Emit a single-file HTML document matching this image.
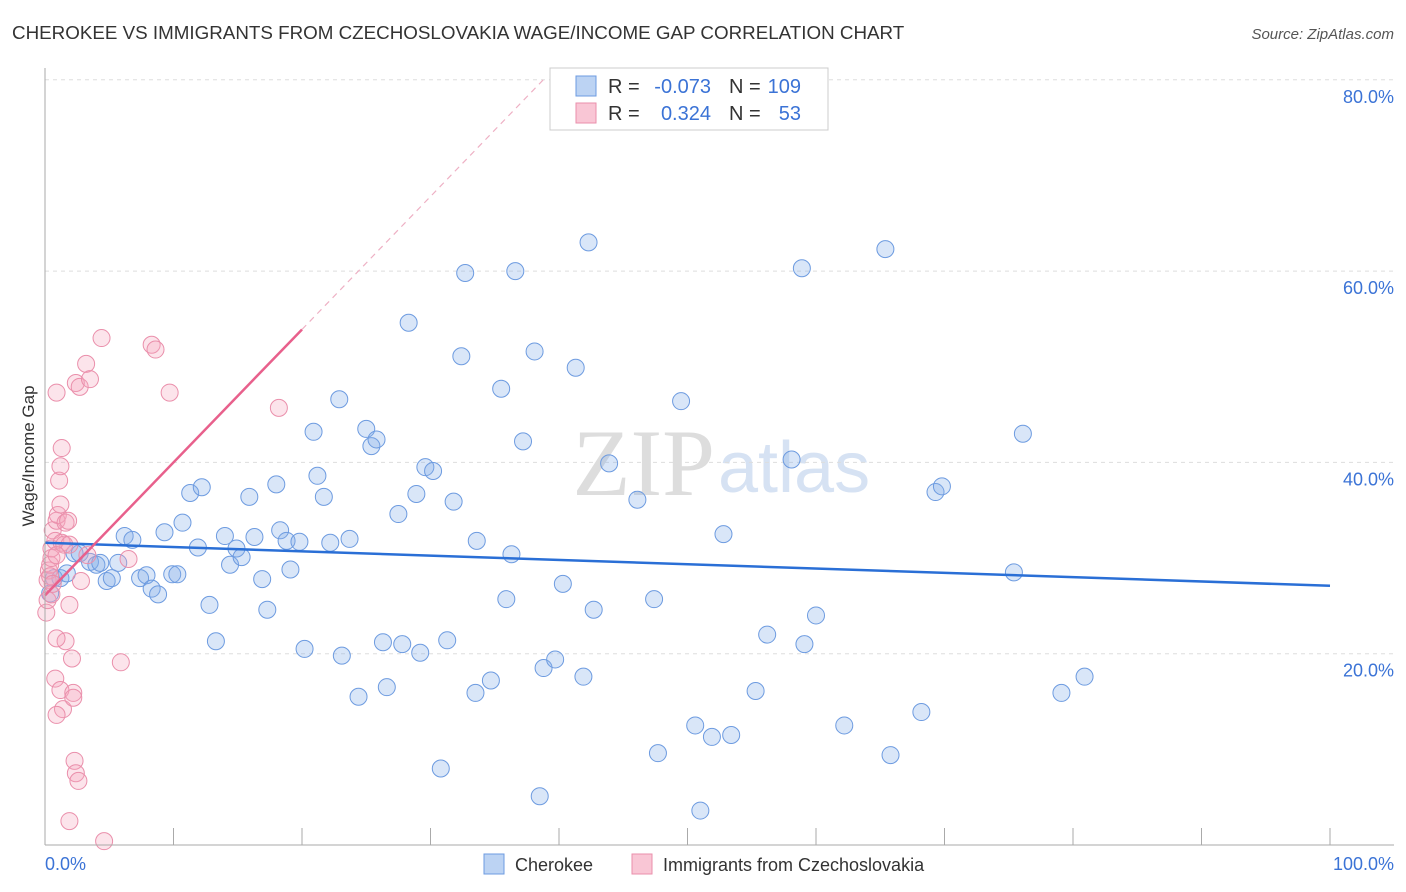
<!DOCTYPE html>
<html><head><meta charset="utf-8"><style>
body{margin:0;background:#fff;font-family:"Liberation Sans",sans-serif}
svg{display:block}
</style></head><body>
<svg id="chart" width="1406" height="892">
<text x="12" y="39" font-size="18.8" fill="#333">CHEROKEE VS IMMIGRANTS FROM CZECHOSLOVAKIA WAGE/INCOME GAP CORRELATION CHART</text>
<text x="1394" y="39" font-size="15" fill="#555" font-style="italic" text-anchor="end">Source: ZipAtlas.com</text>
<text transform="translate(34,456) rotate(-90)" font-size="17" fill="#333" text-anchor="middle">Wage/Income Gap</text>
<text x="715" y="495" font-size="95" fill="#ddd" text-anchor="end" font-family="Liberation Serif,serif">ZIP</text>
<text x="718" y="492" font-size="72" fill="#d6e2f3">atlas</text>
<g id="grid"></g><g id="pts"></g><g id="lines"></g>
<line x1="45" y1="68" x2="45" y2="845" stroke="#aaa"/>
<line x1="45" y1="845" x2="1394" y2="845" stroke="#aaa"/>
<text x="45" y="870" font-size="18" fill="#3b73d6">0.0%</text>
<text x="1394" y="870" font-size="18" fill="#3b73d6" text-anchor="end">100.0%</text>
<g font-size="20">
<rect x="550" y="68" width="278" height="62" fill="#fff" stroke="#ccc"/>
<rect x="576" y="76" width="20" height="20" fill="#bcd3f3" stroke="#6d9be0"/>
<rect x="576" y="103" width="20" height="20" fill="#f9c6d5" stroke="#ea8fab"/>
<text x="608" y="93" fill="#333">R =</text>
<text x="711" y="93" fill="#3b73d6" text-anchor="end">-0.073</text>
<text x="729" y="93" fill="#333">N =</text>
<text x="801" y="93" fill="#3b73d6" text-anchor="end">109</text>
<text x="608" y="120" fill="#333">R =</text>
<text x="711" y="120" fill="#3b73d6" text-anchor="end">0.324</text>
<text x="729" y="120" fill="#333">N =</text>
<text x="801" y="120" fill="#3b73d6" text-anchor="end">53</text>
</g>
<g>
<rect x="484" y="854" width="20" height="20" fill="#bcd3f3" stroke="#6d9be0"/>
<text x="515" y="871" font-size="18" fill="#333">Cherokee</text>
<rect x="632" y="854" width="20" height="20" fill="#f9c6d5" stroke="#ea8fab"/>
<text x="663" y="871" font-size="18" fill="#333">Immigrants from Czechoslovakia</text>
</g>
</svg>
<script>
const yTicks=[20,40,60,80];
const xTicks=[0,10,20,30,40,50,60,70,80,90,100];
const blueX=[0.7,1.2,1.7,2.3,2.7,3.5,4.0,4.3,4.8,5.2,5.7,6.2,6.8,7.4,7.9,8.3,8.8,9.3,9.9,10.3,10.7,11.3,11.9,12.2,12.8,13.3,14.0,14.4,14.9,15.3,15.9,16.3,16.9,17.3,18.0,18.3,18.8,19.1,19.8,20.2,20.9,21.2,21.7,22.2,23.1,22.9,23.7,24.4,25.0,25.4,25.8,26.3,26.6,27.5,27.8,28.3,28.9,29.2,29.6,30.2,30.8,31.3,31.8,32.4,32.7,33.5,33.6,34.7,35.5,35.9,36.3,36.6,37.2,38.1,38.5,38.8,39.7,40.3,41.3,41.9,42.3,42.7,43.9,46.1,47.4,47.7,49.5,50.6,51.0,51.9,52.8,53.4,55.3,56.2,58.1,58.9,59.1,60.0,62.2,65.4,65.8,68.2,69.3,69.8,75.4,76.1,79.1,80.9,0.4];
const blueY=[27.9,27.9,28.4,30.5,30.5,29.6,29.3,29.5,27.6,27.9,29.5,32.3,31.9,27.9,28.2,26.8,26.2,32.7,28.3,28.3,33.7,36.8,31.1,37.4,25.1,21.3,32.3,29.3,31.0,30.1,36.4,32.2,27.8,24.6,37.7,32.9,31.8,28.8,31.7,20.5,43.2,38.6,36.4,31.6,19.8,46.6,32.0,15.5,43.5,41.7,42.4,21.2,16.5,34.6,21.0,54.6,36.7,20.1,39.5,39.1,8.0,21.4,35.9,51.1,59.8,15.9,31.8,17.2,47.7,25.7,30.4,60.0,42.2,51.6,5.1,18.5,19.4,27.3,49.9,17.6,63.0,24.6,39.9,36.1,25.7,9.6,46.4,12.5,3.6,11.3,32.5,11.5,16.1,22.0,40.3,60.3,21.0,24.0,12.5,62.3,9.4,13.9,36.9,37.5,28.5,43.0,15.9,17.6,26.3];
const pinkX=[0.1,0.2,0.2,0.3,0.4,0.5,0.5,0.6,0.8,0.9,0.9,1.0,1.1,1.2,1.2,1.3,1.3,1.5,1.6,0.9,0.8,1.2,1.4,0.9,1.6,1.8,1.9,1.9,2.1,2.2,2.2,2.3,2.4,2.6,1.9,4.6,2.4,2.7,3.2,3.5,3.3,4.4,2.8,5.9,6.5,8.3,8.6,9.7,18.2,0.5,0.4,0.6,0.9];
const pinkY=[24.3,25.6,27.7,28.7,29.3,30.0,31.0,32.9,31.8,33.9,47.3,34.5,38.1,39.6,35.6,41.5,31.6,31.4,21.3,21.6,17.4,16.2,14.2,13.6,33.7,33.9,25.1,31.4,19.5,15.9,15.4,8.8,7.5,6.7,2.5,0.4,48.3,47.9,50.3,48.7,30.3,53.0,27.6,19.1,29.9,52.3,51.8,47.3,45.7,26.2,28.1,27.3,30.3];
const blueFit=[31.6,27.1], pinkFit=[26.1,53.9];
const X=v=>45+v*12.85, Y=v=>845-v*9.565;
const NS='http://www.w3.org/2000/svg';
function mk(tag,attrs,parent){const e=document.createElementNS(NS,tag);for(const k in attrs)e.setAttribute(k,attrs[k]);document.getElementById(parent).appendChild(e);return e;}
yTicks.forEach(t=>{
 const l=mk('line',{x1:45,x2:1394,y1:Y(t),y2:Y(t),stroke:'#ddd','stroke-dasharray':'4,4'},'grid');
 
 
 const tx=mk('text',{x:1394,y:Y(t)+23,'font-size':18,fill:'#3b73d6','text-anchor':'end'},'grid');
 tx.textContent=t.toFixed(1)+'%';
 
 
});
xTicks.forEach(t=>{
 const l=mk('line',{x1:X(t),x2:X(t),y1:828,y2:845,stroke:'#aaa'},'grid');
 
 
});
blueX.forEach((v,i)=>{
 const c=mk('circle',{cx:X(v),cy:Y(blueY[i]),r:8.5,fill:'rgba(130,172,232,0.3)',stroke:'#6d9be0','stroke-width':1},'pts');
 
 
});
pinkX.forEach((v,i)=>{
 const c=mk('circle',{cx:X(v),cy:Y(pinkY[i]),r:8.5,fill:'rgba(245,165,190,0.3)',stroke:'#ea8fab','stroke-width':1},'pts');
 
 
});
const bl=mk('line',{x1:X(0),y1:Y(blueFit[0]),x2:X(100),y2:Y(blueFit[1]),stroke:'#2a6fd6','stroke-width':2.5},'lines');


const slope=(pinkFit[1]-pinkFit[0])/20;
const pl=mk('line',{x1:X(0),y1:Y(pinkFit[0]),x2:X(20),y2:Y(pinkFit[1]),stroke:'#e8608c','stroke-width':2.5},'lines');


const xe=(80-pinkFit[0])/slope;
const pd=mk('line',{x1:X(20),y1:Y(pinkFit[1]),x2:X(xe),y2:Y(80),stroke:'#eeb0c4','stroke-width':1.2,'stroke-dasharray':'6,5'},'lines');


</script>
</body></html>
